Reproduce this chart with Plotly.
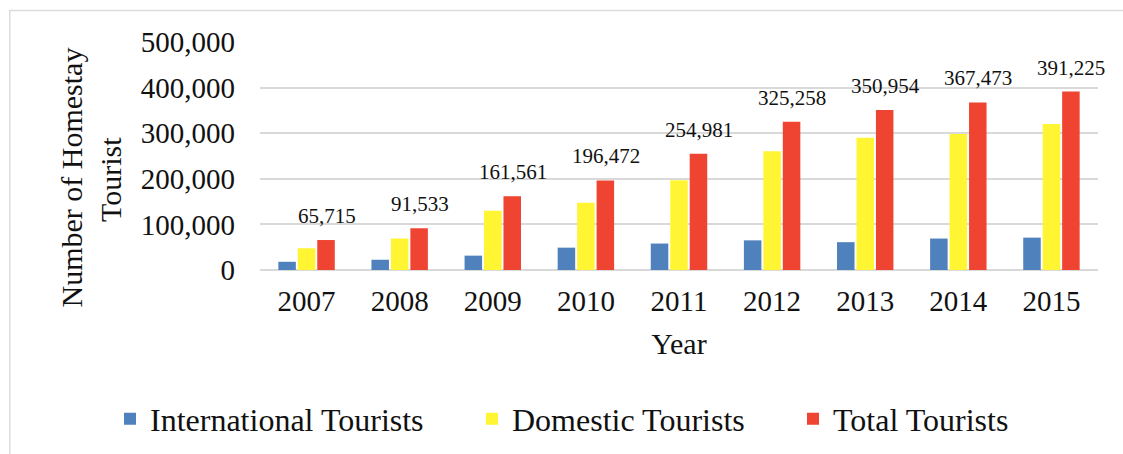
import plotly.graph_objects as go

years = ["2007", "2008", "2009", "2010", "2011", "2012", "2013", "2014", "2015"]
international = [18000, 22500, 31500, 49000, 58000, 65000, 61000, 69000, 71000]
domestic = [47715, 69033, 130061, 147472, 196981, 260258, 289954, 298473, 320225]
total = [65715, 91533, 161561, 196472, 254981, 325258, 350954, 367473, 391225]
total_labels = [f"{v:,}" for v in total]
y_title_lines = ["Number of Homestay", "Tourist"]

FONT = "Liberation Serif, Times New Roman, serif"
W, H = 1123, 454
ML, MR, MT, MB = 260, 25, 42, 184
PW, PH = W - ML - MR, H - MT - MB

def px_x(p):
    return (p - ML) / PW

def px_y(p):
    return (H - MB - p) / PH

fig = go.Figure()
fig.add_trace(go.Bar(x=years, y=international, name="International Tourists",
                     marker=dict(color="#4F81BD", line=dict(width=0)), legend="legend"))
fig.add_trace(go.Bar(x=years, y=domestic, name="Domestic Tourists",
                     marker=dict(color="#FFF533", line=dict(width=0)), legend="legend2"))
fig.add_trace(go.Bar(x=years, y=total, name="Total Tourists",
                     marker=dict(color="#EE4431", line=dict(width=0)), legend="legend3"))

# value labels above the Total bars (x given as category index)
for i, (v, lab) in enumerate(zip(total, total_labels)):
    fig.add_annotation(x=i, y=v, text=lab, showarrow=False, xref="x", yref="y",
                       yanchor="bottom", xshift=20, yshift=10,
                       font=dict(family=FONT, size=21, color="#111"))

# y-axis title (two rotated lines)
for txt, xp, yp in zip(y_title_lines, [71, 110], [177.5, 180]):
    fig.add_annotation(x=px_x(xp), y=px_y(yp), xref="paper", yref="paper", text=txt,
                       showarrow=False, textangle=-90, xanchor="center", yanchor="middle",
                       font=dict(family=FONT, size=30, color="#111"))

# outer frame (only left and top edges visible in the reference)
fig.add_shape(type="rect", xref="paper", yref="paper",
              x0=px_x(9.8), x1=px_x(1140), y0=px_y(10.5), y1=px_y(470),
              line=dict(color="#DCDCDC", width=1.5), fillcolor="rgba(0,0,0,0)", layer="below")

LEGFONT = dict(family=FONT, size=32, color="#111")
def leg(xpix):
    return dict(orientation="h", x=px_x(xpix), xanchor="left", y=px_y(419), yanchor="middle",
                font=LEGFONT, itemwidth=30, bgcolor="rgba(0,0,0,0)")

fig.update_layout(
    width=W, height=H,
    margin=dict(l=ML, r=MR, t=MT, b=MB, autoexpand=False),
    paper_bgcolor="white", plot_bgcolor="white",
    barmode="group", bargap=0.373, bargroupgap=0.1,
    font=dict(family=FONT, color="#111"),
    showlegend=True,
    legend=leg(110), legend2=leg(472), legend3=leg(793),
    xaxis=dict(
        type="category", range=[-0.5, len(years) - 0.5],
        showgrid=False, showline=False, ticks="", zeroline=False,
        tickfont=dict(family=FONT, size=29, color="#111"),
        ticklabelstandoff=11,
        title=dict(text="Year", font=dict(family=FONT, size=30, color="#111"), standoff=16),
        automargin=False,
    ),
    yaxis=dict(
        range=[0, 500000], tickvals=[0, 100000, 200000, 300000, 400000, 500000],
        ticktext=["0", "100,000", "200,000", "300,000", "400,000", "500,000"],
        showgrid=True, gridcolor="#D9D9D9", gridwidth=1.5,
        zeroline=True, zerolinecolor="#D9D9D9", zerolinewidth=1.5,
        showline=False, ticks="",
        tickfont=dict(family=FONT, size=29, color="#111"),
        ticklabelstandoff=24,
        automargin=False,
    ),
)

fig.write_html("out.html")
